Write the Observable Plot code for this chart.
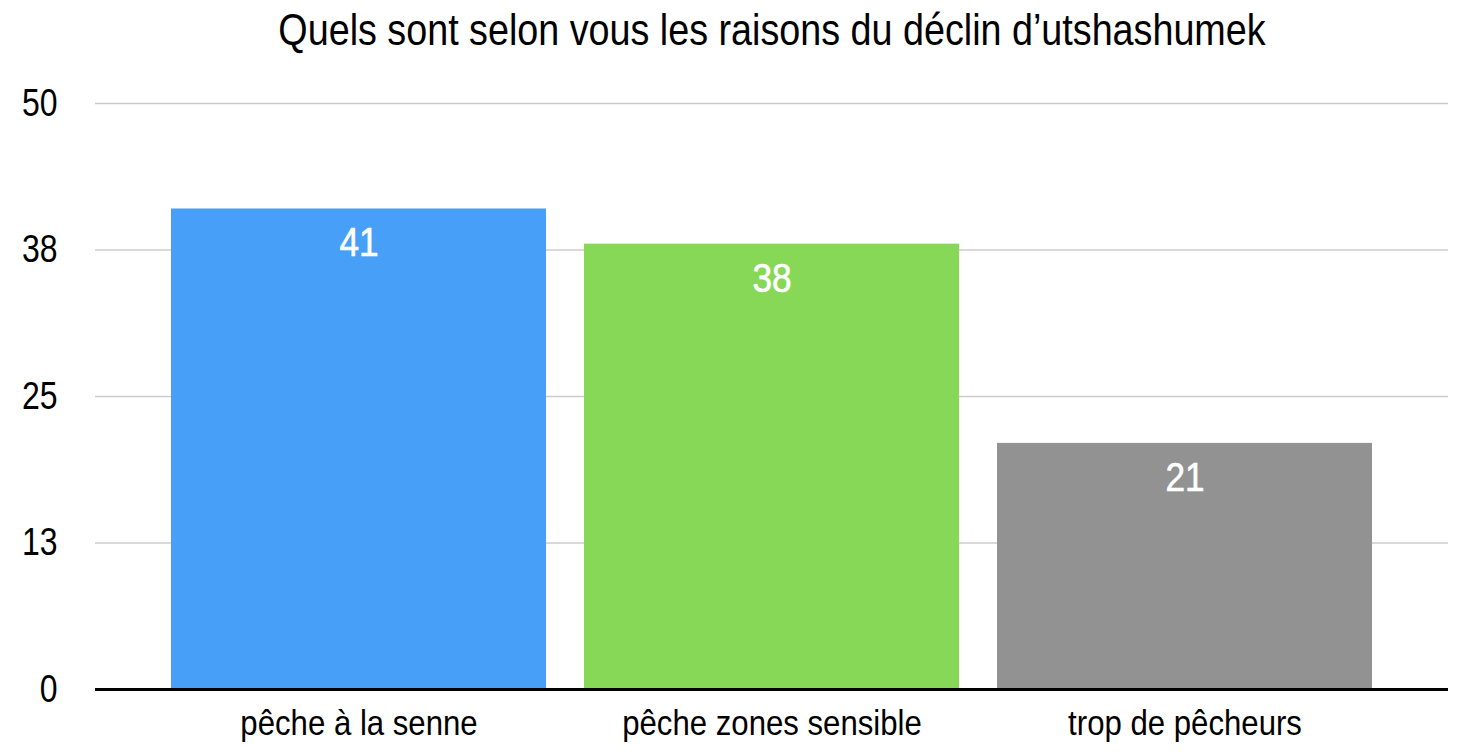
<!DOCTYPE html>
<html>
<head>
<meta charset="utf-8">
<script src="https://cdn.jsdelivr.net/npm/d3@7"></script>
<script src="https://cdn.jsdelivr.net/npm/@observablehq/plot@0.6"></script>
<style>
  html, body { margin: 0; padding: 0; background: #fff; }
  #wrap { position: relative; width: 1458px; height: 756px; overflow: hidden; font-family: "Liberation Sans", Arial, Helvetica, sans-serif; }
  #title { position: absolute; left: 95px; width: 1353px; top: 8px; text-align: center; font-size: 44px; line-height: 44px; color: #000; white-space: nowrap; }
  #title span { display: inline-block; transform: scaleX(0.857); transform-origin: 50% 50%; }
  #chart { position: absolute; left: 0; top: 70px; }
</style>
</head>
<body>
<div id="wrap">
  <div id="title"><span>Quels sont selon vous les raisons du déclin d’utshashumek</span></div>
  <div id="chart"></div>
</div>
<script>
const title = "Quels sont selon vous les raisons du déclin d’utshashumek";
const categories = ["pêche à la senne", "pêche zones sensible", "trop de pêcheurs"];
const values = [41, 38, 21];
const colors = ["#479ff8", "#87d857", "#929292"];
const yTicks = [0, 12.5, 25, 37.5, 50];

const data = categories.map((c, i) => ({category: c, value: values[i]}));

const plot = Plot.plot({
  width: 1458,
  height: 686,
  marginTop: 33,
  marginBottom: 67,
  marginLeft: 95,
  marginRight: 10,
  style: {fontFamily: "'Liberation Sans', Arial, Helvetica, sans-serif", background: "#fff", color: "#000"},
  x: {domain: categories, paddingInner: 0.092, paddingOuter: 0.182, label: null},
  y: {domain: [0, 50], label: null},
  color: {domain: categories, range: colors},
  marks: [
    Plot.gridY(yTicks, {stroke: "#cccccc", strokeOpacity: 1, strokeWidth: 1.5}),
    Plot.axisY(yTicks, {tickSize: 0, tickPadding: 38, tickFormat: d => String(Math.round(d)), fontSize: 39, label: null}),
    Plot.axisX({tickSize: 0, tickPadding: 21, fontSize: 35, label: null}),
    Plot.barY(data, {x: "category", y: "value", fill: "category"}),
    Plot.ruleY([0], {stroke: "#000", strokeWidth: 3}),
    Plot.text(data, {x: "category", y: "value", text: d => String(d.value), fill: "#fff", stroke: "#fff", strokeWidth: 0.6, fontSize: 40, lineAnchor: "top", dy: 19})
  ]
});
document.getElementById("chart").appendChild(plot);

// Condense glyphs horizontally like the reference's narrow typeface
plot.querySelectorAll("text").forEach(t => {
  const fs = parseFloat(t.getAttribute("font-size") || getComputedStyle(t).fontSize);
  let f = 0.86;
  if (Math.abs(fs - 39) < 0.5) f = 0.82;
  else if (Math.abs(fs - 35) < 0.5) f = 0.89;
  else if (Math.abs(fs - 40) < 0.5) f = 0.88;
  const len = t.getComputedTextLength();
  if (len > 0) {
    t.setAttribute("textLength", (len * f).toFixed(2));
    t.setAttribute("lengthAdjust", "spacingAndGlyphs");
  }
});
</script>
</body>
</html>
